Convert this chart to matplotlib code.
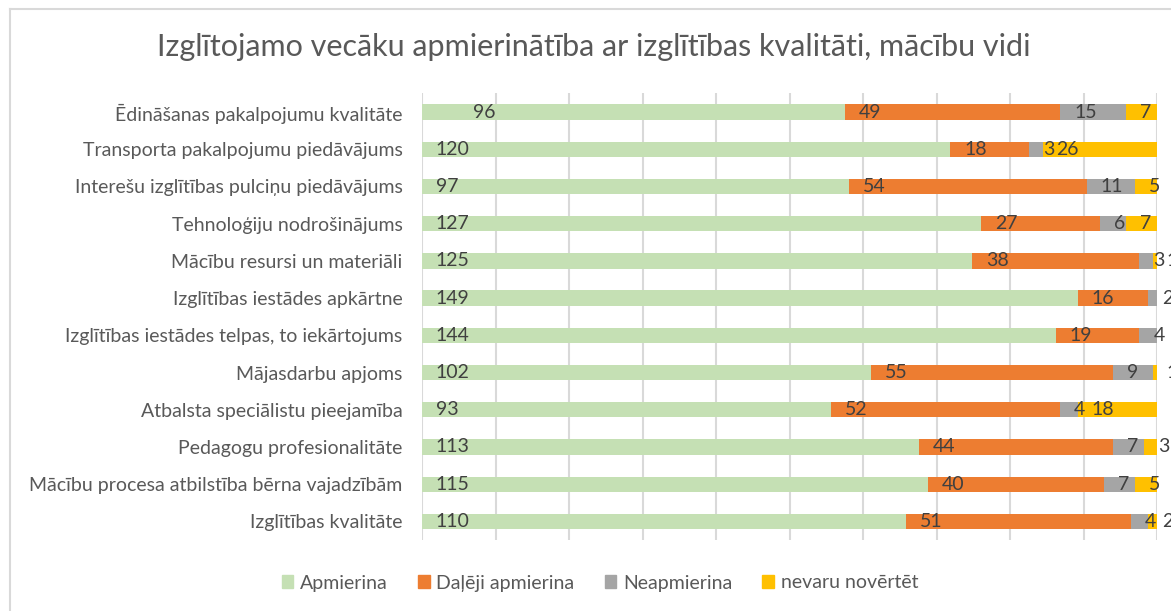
import matplotlib
matplotlib.use("Agg")
import matplotlib.pyplot as plt
from matplotlib.lines import Line2D
import numpy as np

plt.rcParams['font.family'] = ['Lato', 'DejaVu Sans']

categories = [
    "Ēdināšanas pakalpojumu kvalitāte",
    "Transporta pakalpojumu piedāvājums",
    "Interešu izglītības pulciņu piedāvājums",
    "Tehnoloģiju nodrošinājums",
    "Mācību resursi un materiāli",
    "Izglītības iestādes apkārtne",
    "Izglītības iestādes telpas, to iekārtojums",
    "Mājasdarbu apjoms",
    "Atbalsta speciālistu pieejamība",
    "Pedagogu profesionalitāte",
    "Mācību procesa atbilstība bērna vajadzībām",
    "Izglītības kvalitāte",
]
apmierina = [96, 120, 97, 127, 125, 149, 144, 102, 93, 113, 115, 110]
daleji = [49, 18, 54, 27, 38, 16, 19, 55, 52, 44, 40, 51]
neapmierina = [15, 3, 11, 6, 3, 2, 4, 9, 4, 7, 7, 4]
nevaru = [7, 26, 5, 7, 1, 0, 0, 1, 18, 3, 5, 2]

series_names = ["Apmierina", "Daļēji apmierina", "Neapmierina", "nevaru novērtēt"]
colors = ["#C5E0B4", "#ED7D31", "#A5A5A5", "#FFC000"]

fig = plt.figure(figsize=(11.71, 6.11), dpi=100)
ax = fig.add_axes([422/1171, 1 - 540/611, (1157 - 422)/1171, (540 - 93.4)/611])

y = np.arange(len(categories))
series = [apmierina, daleji, neapmierina, nevaru]
left = np.zeros(len(categories))
for vals, name, col in zip(series, series_names, colors):
    vals = np.array(vals, dtype=float)
    ax.barh(y, vals, left=left, height=0.41, color=col, label=name, zorder=3)
    for i, v in enumerate(vals):
        if v == 0:
            continue
        # labels sit at the base of each segment; the first green one was moved in the original
        off = 37 if (name == "Apmierina" and i == 0) else 10
        ax.annotate(str(int(v)), xy=(left[i], y[i]), xytext=(off, 0),
                    textcoords="offset points", ha="left", va="center",
                    fontsize=14, color="#404040", zorder=4, annotation_clip=False)
    left += vals

total = left.max()
ax.set_xlim(0, total)
ax.set_ylim(len(categories) - 0.5, -0.5)
ax.set_xticks(np.linspace(0, total, 11))
ax.set_xticklabels([])
ax.tick_params(axis="x", length=0)
ax.tick_params(axis="y", length=0, pad=14)
ax.set_yticks(y)
ax.set_yticklabels(categories, fontsize=14, color="#595959")
ax.grid(axis="x", color="#D9D9D9", linewidth=1.5, zorder=0)
for s in ax.spines.values():
    s.set_visible(False)

fig.text(594/1171, 1 - 47/611, "Izglītojamo vecāku apmierinātība ar izglītības kvalitāti, mācību vidi",
         ha="center", va="center", fontsize=22, color="#595959")

handles = [plt.Rectangle((0, 0), 1, 1, color=c) for c in colors]
fig.legend(handles, series_names, loc="center", bbox_to_anchor=(600/1171, 1 - 583/611),
           ncol=4, frameon=False, fontsize=14, labelcolor="#595959",
           handlelength=0.6, handleheight=0.6, handletextpad=0.35, columnspacing=1.55)

# chart border (left and top edges visible in the crop)
fig.add_artist(Line2D([9.5/1171, 9.5/1171], [0, 1 - 8.5/611], transform=fig.transFigure,
                      color="#D9D9D9", linewidth=1.5))
fig.add_artist(Line2D([9.5/1171, 1], [1 - 8.5/611, 1 - 8.5/611], transform=fig.transFigure,
                      color="#D9D9D9", linewidth=1.5))

fig.savefig("out.png", dpi=100)
